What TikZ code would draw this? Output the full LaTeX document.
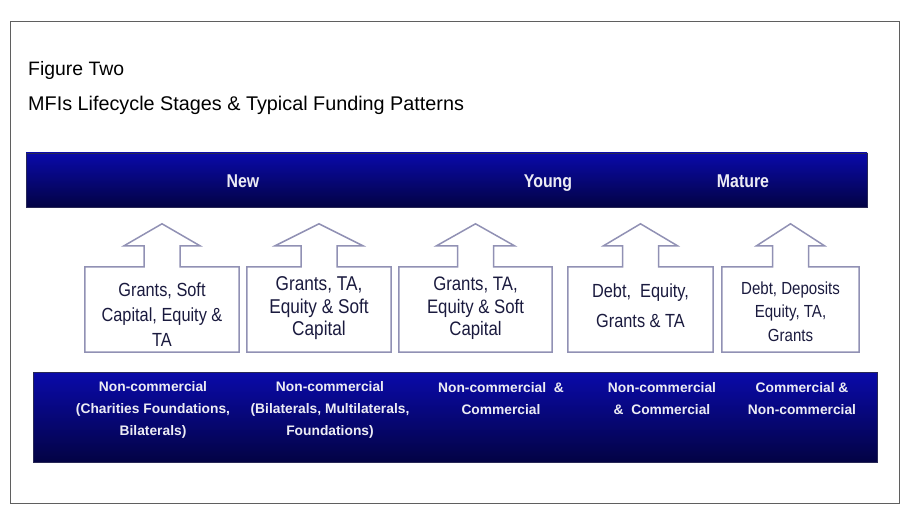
\documentclass[tikz,border=0pt]{standalone}
\usepackage{fontspec}
\setmainfont{Liberation Sans}
\newfontfamily\narrowfont{Liberation Sans}[FakeStretch=0.86]
\usetikzlibrary{calc}

\definecolor{bandtop}{RGB}{10,10,170}
\definecolor{bandbot}{RGB}{3,3,68}
\definecolor{boxline}{RGB}{145,145,180}
\definecolor{boxtext}{RGB}{26,26,62}
\definecolor{framegray}{RGB}{95,95,95}
\definecolor{lbltext}{RGB}{236,236,244}

\begin{document}
\begin{tikzpicture}[x=1pt,y=-1pt,
    band/.style={draw=bandbot!70!gray,top color=bandtop,bottom color=bandbot,inner sep=0pt},
    stagelbl/.style={anchor=base,text=lbltext,font=\narrowfont\fontsize{18.5}{20}\selectfont\bfseries},
    sourcelbl/.style={text=lbltext,align=center,font=\fontsize{13.8}{22}\selectfont\bfseries},
    fundbox/.style={minimum height=85pt,inner sep=0pt},
    fundtext/.style={inner sep=0pt,align=center,text=boxtext},
    outline/.style={draw=boxline,line width=1.5pt,line join=miter}]
  \useasboundingbox (0,0) rectangle (902,516);
  \draw[framegray,line width=1pt] (10,22) rectangle (899,503);

  % heading
  \node[anchor=base west,inner sep=0pt,font=\fontsize{19.4}{21}\selectfont] (figno) at (28,76) {Figure Two};
  \node[anchor=base west,inner sep=0pt,font=\fontsize{19.8}{22}\selectfont] (title) at (28,111)
      {MFIs Lifecycle Stages \& Typical Funding Patterns};

  % stages band
  \node[band,minimum width=841pt,minimum height=54pt] (stages) at (446.5,180) {};
  \node[stagelbl] (new) at (243,187) {New};
  \node[stagelbl] (young) at (548,187) {Young};
  \node[stagelbl] (mature) at (743,187) {Mature};

  % funding boxes
  \node[fundbox,minimum width=154pt] (g1) at (162,309.5) {};
  \node[fundbox,minimum width=144pt] (g2) at (319,309.5) {};
  \node[fundbox,minimum width=153pt] (g3) at (475.5,309.5) {};
  \node[fundbox,minimum width=145pt] (g4) at (640.5,309.5) {};
  \node[fundbox,minimum width=137pt] (g5) at (790.5,309.5) {};

  \foreach \b/\h in {g1/38,g2/44,g3/39,g4/37,g5/34}
    \draw[outline] (\b.north west) -- ($(\b.north)+(-18,0)$) -- ($(\b.north)+(-18,-21)$)
      -- ($(\b.north)+(-\h,-21)$) -- ($(\b.north)+(0,-43)$) -- ($(\b.north)+(\h,-21)$)
      -- ($(\b.north)+(18,-21)$) -- ($(\b.north)+(18,0)$) -- (\b.north east)
      -- (\b.south east) -- (\b.south west) -- cycle;

  \node[fundtext,font=\narrowfont\fontsize{19}{25}\selectfont,yshift=-5pt] (t1) at (g1)
      {Grants, Soft\\Capital, Equity \&\\TA};
  \node[fundtext,font=\narrowfont\fontsize{20}{22.5}\selectfont,yshift=1pt] (t2) at (g2)
      {Grants, TA,\\Equity \& Soft\\Capital};
  \node[fundtext,font=\narrowfont\fontsize{19.5}{22.5}\selectfont,yshift=1pt] (t3) at (g3)
      {Grants, TA,\\Equity \& Soft\\Capital};
  \node[fundtext,font=\narrowfont\fontsize{19}{30}\selectfont,yshift=4pt] (t4) at (g4)
      {Debt,\ \ Equity,\\Grants \& TA};
  \node[fundtext,font=\narrowfont\fontsize{17.5}{23.5}\selectfont,yshift=-2pt] (t5) at (g5)
      {Debt, Deposits\\Equity, TA,\\Grants};

  % sources band
  \node[band,minimum width=844pt,minimum height=90pt] (sources) at (455,417) {};
  \node[sourcelbl] (s1) at (153,410) {Non-commercial\\(Charities Foundations,\\Bilaterals)};
  \node[sourcelbl] (s2) at (330,410) {Non-commercial\\(Bilaterals, Multilaterals,\\Foundations)};
  \node[sourcelbl] (s3) at (501,399) {Non-commercial\ \ \&\\Commercial};
  \node[sourcelbl] (s4) at (662,399) {Non-commercial\\\&\ \ Commercial};
  \node[sourcelbl] (s5) at (802,399) {Commercial \&\\Non-commercial};
\end{tikzpicture}
\end{document}
